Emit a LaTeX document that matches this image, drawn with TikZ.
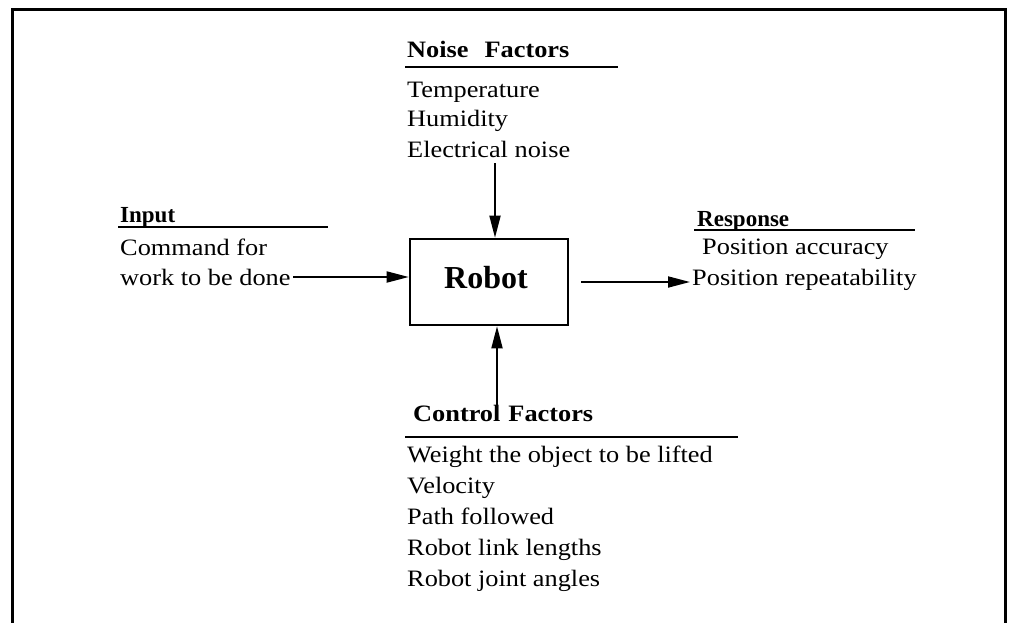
\documentclass[tikz,border=0pt]{standalone}
\usepackage{fontspec}
\setmainfont{Liberation Serif}[FakeStretch=1.12]
\usetikzlibrary{arrows.meta}

\tikzset{
  txt/.style={anchor=base west, inner sep=0pt, font=\fontsize{23.5}{30}\selectfont},
  head/.style={txt, font=\fontsize{23.5}{30}\selectfont\bfseries},
  narrowhead/.style={txt, font=\fontsize{23}{30}\selectfont\bfseries\addfontfeature{FakeStretch=1.0}},
  rule/.style={line width=2.4pt},
  frame/.style={line width=3pt},
  arr/.style={line width=1.8pt, -{Triangle[length=22pt,width=11pt]}},
  box/.style={draw, line width=2.6pt, minimum width=158pt, minimum height=86pt, inner sep=0pt}
}

\begin{document}
\begin{tikzpicture}[x=1pt,y=-1pt]
  \useasboundingbox (0,0) rectangle (1011,623);

  % open frame round the diagram
  \draw[frame] (12,623) -- (12,10) -- (1005,10) -- (1005,623);

  % central block
  \node[box] (robot) at (489,282) {};
  \node[anchor=base, inner sep=0pt, font=\fontsize{32}{36}\selectfont\bfseries] (robotlbl) at (486,288) {\addfontfeature{FakeStretch=1.0}Robot};

  % noise factors
  \node[head] (noise) at (407,58) {Noise\hspace{16pt}Factors};
  \draw[rule] (405,67) -- (618,67);
  \node[txt] (n1) at (407,98) {Temperature};
  \node[txt] (n2) at (407,127) {Humidity};
  \node[txt] (n3) at (407,157) {Electrical noise};

  % input
  \node[narrowhead] (input) at (120,222) {Input};
  \draw[rule] (118,227) -- (328,227);
  \node[txt] (in1) at (120,255) {Command for};
  \node[txt] (work) at (120,285) {work to be done};

  % response
  \node[narrowhead] (resp) at (697,226) {Response};
  \draw[rule] (694,230) -- (915,230);
  \node[txt] (r1) at (702,254) {Position accuracy};
  \node[txt] (r2) at (692,285) {Position repeatability};

  % control factors
  \node[head] (ctrl) at (413,421) {Control\hspace{8pt}Factors};
  \draw[rule] (405,437) -- (738,437);
  \node[txt] (c1) at (407,462) {Weight the object to be lifted};
  \node[txt] (c2) at (407,493) {Velocity};
  \node[txt] (c3) at (407,524) {Path followed};
  \node[txt] (c4) at (407,555) {Robot link lengths};
  \node[txt] (c5) at (407,586) {Robot joint angles};

  % connector ends
  \coordinate (nz) at (495,163);
  \coordinate (inA) at (293,277);
  \coordinate (outA) at (581,282);
  \coordinate (outB) at (690,282);
  \coordinate (cf) at (497,413);

  % connectors
  \draw[arr] (nz) -- (nz |- robot.north);
  \draw[arr] (inA) -- (inA -| robot.west);
  \draw[arr] (outA) -- (outB);
  \draw[arr] (cf) -- (cf |- robot.south);
\end{tikzpicture}
\end{document}
